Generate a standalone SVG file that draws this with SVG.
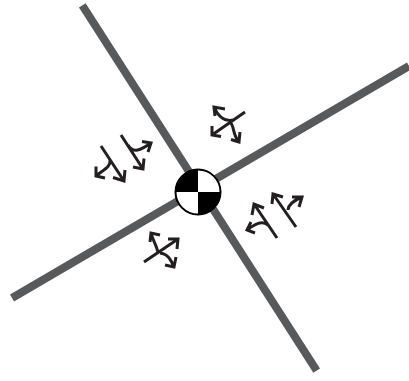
<svg xmlns="http://www.w3.org/2000/svg" width="409" height="381" viewBox="0 0 409 381">
<style>
.beam{stroke:#58595b;stroke-width:8;fill:none}
.arrow{stroke:#231f20;stroke-width:3;fill:none}
</style>
<rect width="409" height="381" fill="#fff"/>
<g id="connectors">
<path class="beam" d="M82.300 5.300L316.700 370.700"/>
<path class="beam" d="M12 298L409 66"/>
</g>
<g id="arrow-a"><path class="arrow" d="M101 146L124 181M113 177.500L124 181L125 170M110 160C111 167 103 170 96 176M96 166.500L96 176L105 178"/></g>
<g id="arrow-b"><path class="arrow" d="M121 135L143 169M133 167L143 169L144 158.500M128 145C133 154 141 150 151 143M142 141.500L151 143L148 152"/></g>
<g id="arrow-c"><path class="arrow" d="M245 112L212 135M212 126L212 135L221 136.500M233 120C224 122 218 116 214 107M215 116L214 107L225 109M230 122C235 127 232 134 239 142M231 139.500L239 142L240 132"/></g>
<g id="arrow-d"><path class="arrow" d="M277 238L254 204M264 208L254 204L252 215M268 225C262 220 255 224 247 230M251 222L247 230L255 233"/></g>
<g id="arrow-e"><path class="arrow" d="M296 227L273 194M283 197L273 194L272 204M288 210C288 204 295 200 302 197M292 197L302 197L299 207"/></g>
<g id="arrow-f"><path class="arrow" d="M144 262L178 239M168 239L178 239L177 249M158 253C157 246 153 241 151 233M160 235L151 233L150 242M160 253C168 254 171 260 174 267M165 265L174 267L176 257"/></g>
<g id="center-mark">
<circle cx="198" cy="192" r="22.500" fill="#fff" stroke="#000" stroke-width="2"/>
<path fill="#000" d="M198 192V169.500A22.500 22.500 0 0 0 175.500 192ZM198 192V214.500A22.500 22.500 0 0 0 220.500 192Z"/>
</g>
</svg>
